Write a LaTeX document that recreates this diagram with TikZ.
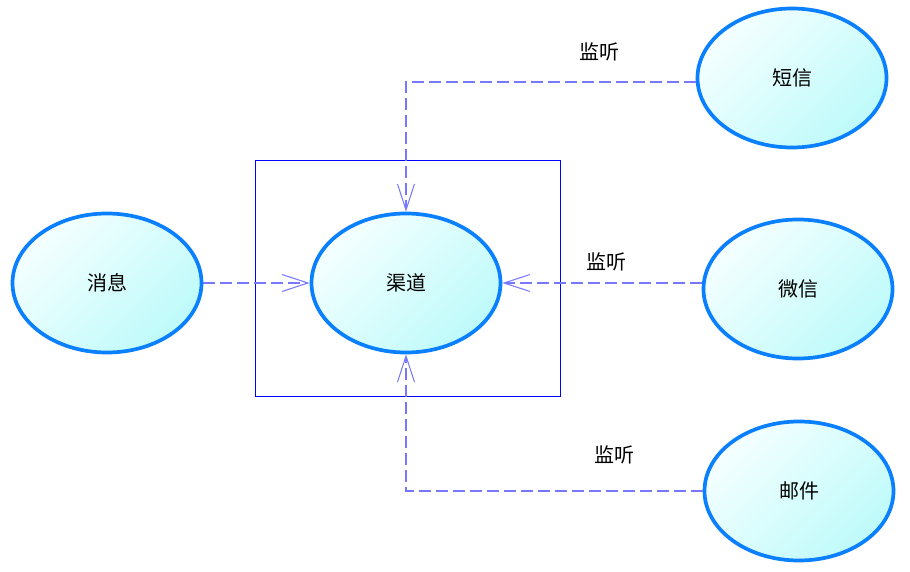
\documentclass[tikz,border=0pt]{standalone}
\usepackage{fontspec}
\setmainfont{Noto Sans CJK SC}
\usetikzlibrary{shapes.geometric,arrows.meta}
\definecolor{ucborder}{RGB}{10,128,255}
\definecolor{ucfillA}{RGB}{245,255,255}
\definecolor{ucfillB}{RGB}{190,250,250}
\definecolor{linkcol}{RGB}{120,120,255}
\tikzset{
  usecase/.style={ellipse, draw=ucborder, line width=3.7pt, minimum width=189pt, minimum height=139pt, inner sep=0pt,
    left color=ucfillA, right color=ucfillB, shading angle=45, font=\fontsize{20}{23}\selectfont},
  link/.style={draw=linkcol, line width=1.05pt, dash pattern=on 12pt off 5pt, -{Straight Barb[length=26pt,width=17pt]}},
  lbl/.style={font=\fontsize{20}{23}\selectfont, inner sep=0pt},
  frame/.style={draw=blue, line width=1pt}
}
\begin{document}
\begin{tikzpicture}[x=1pt,y=-1pt]
\useasboundingbox (0,0) rectangle (910,572);
\node[frame, minimum width=305pt, minimum height=235pt, inner sep=0pt] (box) at (407.5,278.5) {};
\node[usecase] (xx) at (107,283) {消息};
\node[usecase] (qd) at (406,283) {渠道};
\node[usecase] (dx) at (792,78) {短信};
\node[usecase] (wx) at (798,289) {微信};
\node[usecase] (yj) at (799,491) {邮件};
\node[lbl] (l1) at (599,52) {监听};
\node[lbl] (l2) at (606,262) {监听};
\node[lbl] (l3) at (614,455) {监听};
\draw[link] (xx.east) -- (qd.west);
\draw[link] ([yshift=-4pt]dx.west) -| (qd.north);
\draw[link] (wx.west |- qd.east) -- (qd.east);
\draw[link] (yj.west) -| (qd.south);
\end{tikzpicture}
\end{document}
